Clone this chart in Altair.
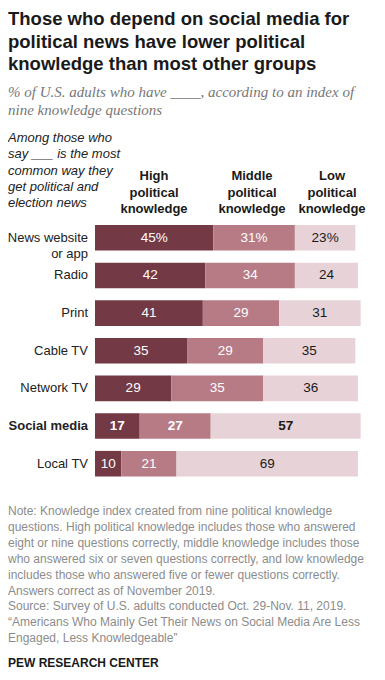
import altair as alt
import pandas as pd

categories = ["News website or app", "Radio", "Print", "Cable TV", "Network TV", "Social media", "Local TV"]
row_labels = ["News website\nor app", "Radio", "Print", "Cable TV", "Network TV", "Social media", "Local TV"]
levels = ["High", "Middle", "Low"]
high = [45, 42, 41, 35, 29, 17, 10]
middle = [31, 34, 29, 29, 35, 27, 21]
low = [23, 24, 31, 35, 36, 57, 69]
level_colors = ["#733944", "#b77b85", "#e7d3d7"]

title_lines = ["Those who depend on social media for",
               "political news have lower political",
               "knowledge than most other groups"]
subtitle_lines = ["% of U.S. adults who have ____, according to an index of",
                  "nine knowledge questions"]
left_header = ["Among those who", "say ___ is the most", "common way they",
               "get political and", "election news"]
col_headers = [["High", "political", "knowledge"],
               ["Middle", "political", "knowledge"],
               ["Low", "political", "knowledge"]]
note_lines = [
    "Note: Knowledge index created from nine political knowledge",
    "questions. High political knowledge includes those who answered",
    "eight or nine questions correctly, middle knowledge includes those",
    "who answered six or seven questions correctly, and low knowledge",
    "includes those who answered five or fewer questions correctly.",
    "Answers correct as of November 2019.",
    "Source: Survey of U.S. adults conducted Oct. 29-Nov. 11, 2019.",
    "\u201cAmericans Who Mainly Get Their News on Social Media Are Less",
    "Engaged, Less Knowledgeable\u201d",
]
credit = "PEW RESEARCH CENTER"

# ---- build table ----
rows = []
for i, cat in enumerate(categories):
    vals = [high[i], middle[i], low[i]]
    start = 0
    for j, lv in enumerate(levels):
        v = vals[j]
        lab = f"{v}%" if i == 0 else str(v)
        rows.append({"cat": cat, "level": lv, "value": v, "start": start,
                     "end": start + v, "mid": start + v / 2, "label": lab,
                     "bold": cat == "Social media", "dark": lv != "Low"})
        start += v
df = pd.DataFrame(rows)
lab_df = pd.DataFrame({"cat": categories, "rowlab": row_labels,
                       "bold": [c == "Social media" for c in categories]})

TOP = 12  # top padding; y values below are page_y - 8 - TOP
FONT = "Liberation Sans"
xscale = alt.Scale(domain=[0, 100], range=[87, 350])
yscale = alt.Scale(domain=categories, range=[217 - TOP, 468.5 - TOP],
                   paddingInner=0.32, paddingOuter=0)
Y = alt.Y("cat:N", scale=yscale, axis=None, sort=categories)

bars = alt.Chart(df).mark_bar().encode(
    x=alt.X("start:Q", scale=xscale, axis=None),
    x2="end:Q",
    y=Y,
    color=alt.Color("level:N", scale=alt.Scale(domain=levels, range=level_colors), legend=None),
)

def val_layer(bold):
    return alt.Chart(df).transform_filter(
        alt.datum.bold if bold else ~alt.datum.bold
    ).mark_text(font=FONT, fontSize=13.5, fontWeight="bold" if bold else "normal",
                align="center", baseline="middle").encode(
        x=alt.X("mid:Q", scale=xscale, axis=None),
        y=Y,
        text="label:N",
        color=alt.condition(alt.datum.dark, alt.value("#ffffff"), alt.value("#1a1a1a")),
    )

def row_layer(bold):
    return alt.Chart(lab_df).transform_filter(
        alt.datum.bold if bold else ~alt.datum.bold
    ).mark_text(font=FONT, fontSize=13, fontWeight="bold" if bold else "normal",
                align="right", baseline="middle", lineBreak="\n", lineHeight=16,
                color="#222222").encode(
        x=alt.value(80),
        y=Y,
        text="rowlab:N",
    )

def block(lines, x, y, size, lh, color, weight="normal", style="normal",
          font=FONT, align="left"):
    return alt.Chart(pd.DataFrame({"t": ["\n".join(lines)]})).mark_text(
        font=font, fontSize=size, fontWeight=weight, fontStyle=style,
        align=align, baseline="alphabetic", lineBreak="\n", lineHeight=lh,
        color=color).encode(x=alt.value(x), y=alt.value(y - TOP), text="t:N")

layers = [
    block(title_lines, 0, 17, 18.5, 22.5, "#1a1a1a", weight="bold"),
    block(subtitle_lines, 0, 89, 15, 18, "#777777", style="italic", font="Liberation Serif"),
    block(left_header, 0, 134, 13, 16.3, "#222222", style="italic"),
    block(col_headers[0], 146, 172, 13, 16.5, "#1a1a1a", weight="bold", align="center"),
    block(col_headers[1], 244, 172, 13, 16.5, "#1a1a1a", weight="bold", align="center"),
    block(col_headers[2], 324, 172, 13, 16.5, "#1a1a1a", weight="bold", align="center"),
    bars,
    val_layer(False), val_layer(True),
    row_layer(False), row_layer(True),
    block(note_lines, 0, 507, 12, 15.9, "#8c8c8c"),
    block([credit], 0, 659, 12, 14, "#1a1a1a", weight="bold"),
]

chart = alt.layer(*layers).properties(
    width=369, height=664 - TOP,
    autosize=alt.AutoSizeParams(type="none"),
    padding={"left": 0, "top": TOP, "right": 0, "bottom": 0},
).configure_view(stroke=None)

chart.save("out.html", embed_options={"renderer": "svg", "actions": False})
